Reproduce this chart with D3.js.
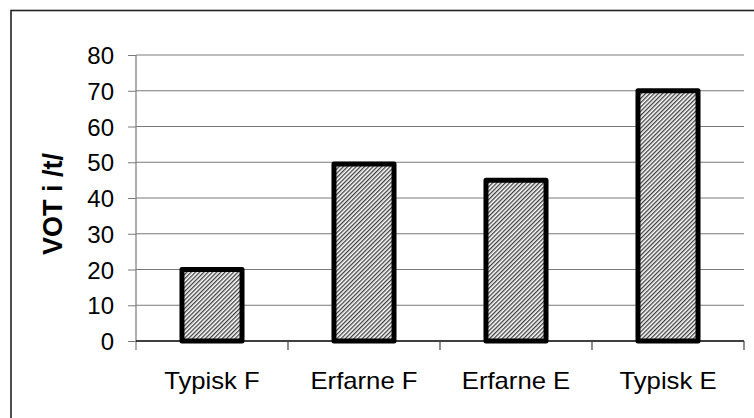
<!DOCTYPE html>
<html>
<head>
<meta charset="utf-8">
<script src="https://cdn.jsdelivr.net/npm/d3@7"></script>
<style>
  html, body { margin: 0; padding: 0; background: #fff; }
  svg { display: block; }
  text { font-family: "Liberation Sans", Arial, sans-serif; fill: #000; }
</style>
</head>
<body>
<svg id="chart" width="754" height="418"></svg>
<script>
// VOT values per speaker group
const categories = ["Typisk F", "Erfarne F", "Erfarne E", "Typisk E"];
const values = [20, 49.5, 45, 70];
const yTicks = [0, 10, 20, 30, 40, 50, 60, 70, 80];
const yTitle = "VOT i /t/";

const plot = { left: 136, right: 744, top: 55, bottom: 341 };

const svg = d3.select("#chart");

// diagonal hatch fill for the bars
const defs = svg.append("defs");
const pat = defs.append("pattern")
  .attr("id", "hatch")
  .attr("patternUnits", "userSpaceOnUse")
  .attr("width", 3).attr("height", 3)
  .attr("patternTransform", "rotate(45)");
pat.append("rect").attr("width", 3).attr("height", 3).attr("fill", "#fff");
pat.append("line")
  .attr("x1", 0.7).attr("y1", 0).attr("x2", 0.7).attr("y2", 3)
  .attr("stroke", "#2a2a2a").attr("stroke-width", 1.2);

// outer frame
svg.append("rect")
  .attr("x", 11).attr("y", 10.5)
  .attr("width", 800).attr("height", 500)
  .attr("fill", "none").attr("stroke", "#222").attr("stroke-width", 1.6);

const y = d3.scaleLinear().domain([0, 80]).range([plot.bottom, plot.top]);
const x = d3.scaleBand().domain(categories)
  .range([plot.left, plot.right])
  .paddingInner(0.605).paddingOuter(0.3025);
const xEdge = d3.scaleLinear().domain([0, categories.length]).range([plot.left, plot.right]);

// horizontal gridlines
svg.append("g").selectAll("line")
  .data(yTicks.filter(d => d > 0))
  .join("line")
  .attr("x1", plot.left).attr("x2", plot.right)
  .attr("y1", d => y(d)).attr("y2", d => y(d))
  .attr("stroke", "#7a7a7a").attr("stroke-width", 1);

// bars
svg.append("g").selectAll("rect")
  .data(values)
  .join("rect")
  .attr("x", (d, i) => x(categories[i]))
  .attr("width", x.bandwidth())
  .attr("y", d => y(d))
  .attr("height", d => y(0) - y(d))
  .attr("fill", "url(#hatch)")
  .attr("stroke", "#000").attr("stroke-width", 5)
  .attr("stroke-linejoin", "round");

// y axis
const yAxis = svg.append("g")
  .attr("transform", `translate(${plot.left},0)`)
  .call(d3.axisLeft(y).tickValues(yTicks).tickSize(8).tickPadding(14));
yAxis.select(".domain").remove();
yAxis.selectAll(".tick line").attr("stroke", "#7a7a7a");
yAxis.selectAll(".tick text")
  .attr("font-size", 24)
  .attr("font-family", "Liberation Sans, Arial, sans-serif")
  .attr("dy", "0.36em");
svg.append("line")
  .attr("x1", plot.left).attr("x2", plot.left)
  .attr("y1", plot.top).attr("y2", plot.bottom + 9)
  .attr("stroke", "#7a7a7a").attr("stroke-width", 1.2);

// x axis baseline and category dividers
svg.append("line")
  .attr("x1", plot.left).attr("x2", plot.right)
  .attr("y1", y(0)).attr("y2", y(0))
  .attr("stroke", "#000").attr("stroke-width", 1.3);
svg.append("g").selectAll("line")
  .data(d3.range(1, categories.length + 1))
  .join("line")
  .attr("x1", d => xEdge(d)).attr("x2", d => xEdge(d))
  .attr("y1", y(0)).attr("y2", y(0) + 9)
  .attr("stroke", "#444").attr("stroke-width", 1.2);

// category labels
svg.append("g").selectAll("text")
  .data(categories)
  .join("text")
  .attr("transform", d => `translate(${x(d) + x.bandwidth() / 2},389) scale(1.07,1)`)
  .attr("text-anchor", "middle")
  .attr("font-size", 24)
  .text(d => d);

// y axis title
svg.append("text")
  .attr("transform", "translate(62,204) rotate(-90)")
  .attr("text-anchor", "middle")
  .attr("font-size", 27)
  .attr("font-weight", "bold")
  .text(yTitle);
</script>
</body>
</html>
